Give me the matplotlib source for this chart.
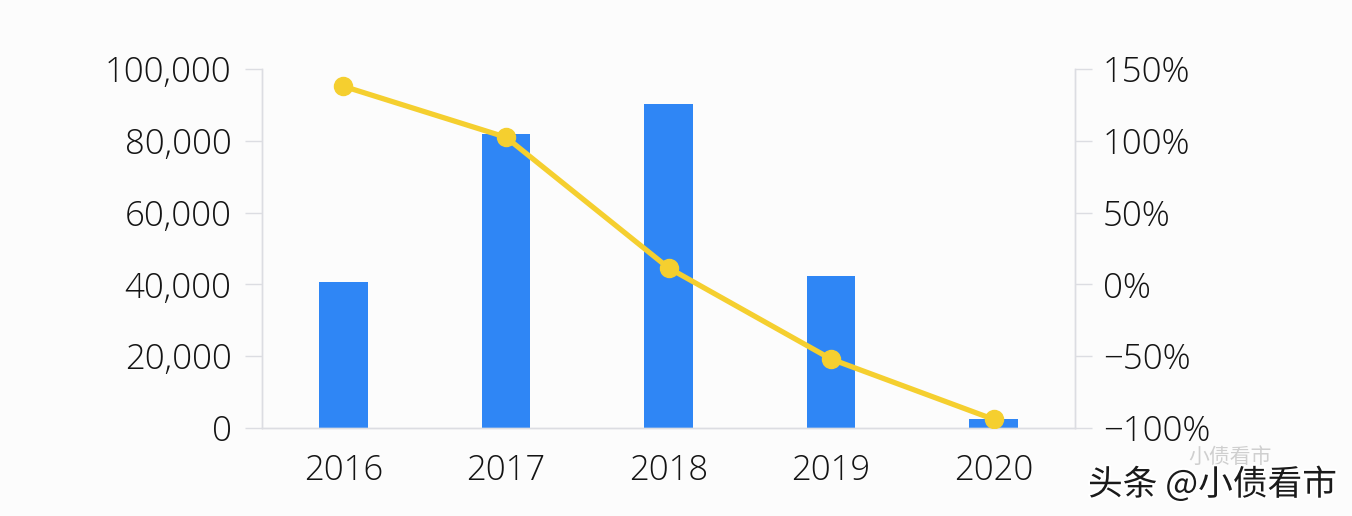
import matplotlib.pyplot as plt
import matplotlib.patheffects as pe
from matplotlib.ticker import FuncFormatter

years = ["2016", "2017", "2018", "2019", "2020"]
amount = [40600, 81900, 90200, 42300, 2500]
growth = [138, 102.5, 11.5, -52, -94]

left_ticks = [0, 20000, 40000, 60000, 80000, 100000]
right_ticks = [-100, -50, 0, 50, 100, 150]

plt.rcParams['font.family'] = ['Open Sans', 'Noto Sans CJK SC', 'DejaVu Sans']
plt.rcParams['font.weight'] = 'light'

bar_color = '#2f86f5'
line_color = '#f5cf2f'
axis_color = '#dcdde2'
text_color = '#141414'

fig = plt.figure(figsize=(13.52, 5.16), dpi=100, facecolor='#fcfcfc')
ax = fig.add_axes([262/1352, 1-428/516, (1075-262)/1352, (428-69)/516])
ax.set_facecolor('#fcfcfc')

x = list(range(len(years)))
ax.bar(x, amount, width=0.3, color=bar_color, zorder=2)
ax.set_xlim(-0.5, 4.5)
ax.set_ylim(0, 100000)
ax.set_yticks(left_ticks)
ax.yaxis.set_major_formatter(FuncFormatter(lambda v, p: f"{int(v):,}"))
ax.set_xticks(x)
ax.set_xticklabels(years)

ax2 = ax.twinx()
ax2.plot(x, growth, color=line_color, lw=3.8, marker='o', markersize=13,
         solid_capstyle='round', zorder=3)
ax2.set_ylim(-100, 150)
ax2.set_yticks(right_ticks)
ax2.yaxis.set_major_formatter(
    FuncFormatter(lambda v, p: f"{int(v)}%".replace("-", "\u2212")))

for a in (ax, ax2):
    for s in a.spines.values():
        s.set_color(axis_color)
        s.set_linewidth(1.0)
    a.spines['top'].set_visible(False)
    a.tick_params(axis='y', colors=axis_color, length=12, width=1.0,
                  labelcolor=text_color, labelsize=25, pad=10)
ax2.tick_params(axis='y', pad=8)
ax.tick_params(axis='x', length=0, labelsize=25, labelcolor=text_color, pad=18)

# watermark
fig.text(1188/1352, 1-457/516, "小债看市", fontsize=15, color='#cfcfcf',
         ha='left', va='center', family=['Noto Sans CJK SC'])
fig.text(1088/1352, 1-485/516, "头条 @小债看市", fontsize=25, color='#1a1a1a',
         ha='left', va='center', family=['Noto Sans CJK SC'],
         path_effects=[pe.withStroke(linewidth=3, foreground='white')])

fig.savefig("out.png", dpi=100, facecolor=fig.get_facecolor())
